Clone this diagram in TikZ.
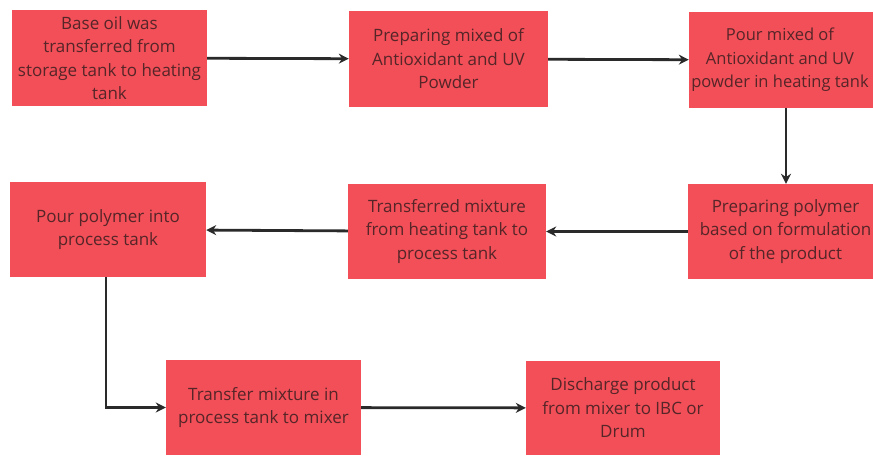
\documentclass[tikz,border=0pt]{standalone}
\usepackage{fontspec}
\setmainfont{Open Sans}
\usetikzlibrary{arrows.meta}
\definecolor{boxred}{HTML}{F24F58}
\definecolor{boxtext}{HTML}{552528}
\definecolor{linegray}{HTML}{2A2A2A}
\tikzset{
  stepbox/.style={fill=boxred, draw=none, minimum width=#1, minimum height=96pt,
    inner sep=0pt, align=center, text=boxtext,
    font=\fontsize{17pt}{23.5pt}\selectfont},
  stepbox/.default=196pt,
  flow/.style={draw=linegray, line width=2.8pt, -{Stealth[length=10pt,width=10pt]}}
}
\begin{document}
\begin{tikzpicture}[x=1pt,y=-1pt]
\useasboundingbox (0,0) rectangle (873,457);
\begin{scope}
\clip (0,0) rectangle (873,457);
\node[stepbox=195pt] (b1) at (109.5,58) {Base oil was\\transferred from\\storage tank to heating\\tank};
\node[stepbox=199pt] (b2) at (448.5,59) {Preparing mixed of\\Antioxidant and UV\\Powder};
\node[stepbox=196pt] (b3) at (787,60) {};
\node[text=boxtext, align=center, inner sep=0pt, font=\fontsize{16.5pt}{23.5pt}\selectfont] (b3t) at (780,60) {Pour mixed of\\Antioxidant and UV\\powder in heating tank};
\node[stepbox=195pt, minimum height=95pt] (b4) at (785.5,231.5) {Preparing polymer\\based on formulation\\of the product};
\node[stepbox=198pt, minimum height=95pt] (b5) at (447,231.5) {Transferred mixture\\from heating tank to\\process tank};
\node[stepbox=196pt, minimum height=95pt] (b6) at (108,229.5) {Pour polymer into\\process tank};
\node[stepbox=195pt, minimum height=95pt] (b7) at (263.5,407.5) {Transfer mixture in\\process tank to mixer};
\node[stepbox=194pt, minimum height=94pt] (b8) at (623,408) {Discharge product\\from mixer to IBC or\\Drum};
\draw[flow] (b1) -- (b2);
\draw[flow] (b2) -- (b3);
\draw[flow] (b3.south -| 786,0) -- (b4.north -| 786,0);
\draw[flow] (b4) -- (b5);
\draw[flow] (b5) -- (b6);
\draw[flow] (b6.south -| 106,0) |- (b7.west);
\draw[flow] (b7) -- (b8);
\end{scope}
\end{tikzpicture}
\end{document}
